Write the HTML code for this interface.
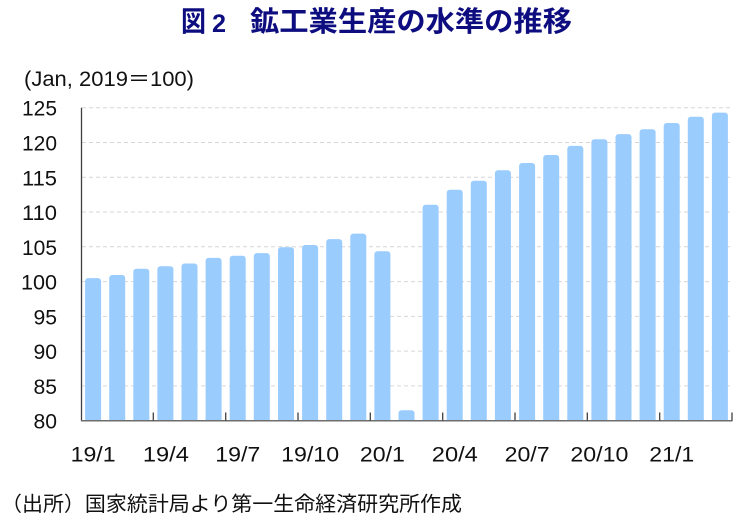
<!DOCTYPE html>
<html>
<head>
<meta charset="utf-8">
<style>
  html,body{margin:0;padding:0;background:#fff;}
  svg{display:block;}
  .num{font-family:"Liberation Sans",sans-serif;font-size:21px;fill:#111;}
</style>
</head>
<body>
<svg width="746" height="522" viewBox="0 0 746 522" xmlns="http://www.w3.org/2000/svg">
  <defs>
    <clipPath id="plot"><rect x="81" y="100" width="660" height="320.7"/></clipPath>
  </defs>
  <rect width="746" height="522" fill="#fff"/>
  <!-- Title -->
  <g font-family="'Liberation Sans','Noto Sans CJK JP',sans-serif" font-weight="bold" fill="#0d0d80">
    <text x="181" y="31" font-size="28" textLength="25" lengthAdjust="spacingAndGlyphs">図</text>
    <text x="212" y="32" font-size="25" textLength="14" lengthAdjust="spacingAndGlyphs">2</text>
    <text x="250" y="31" font-size="28" textLength="322" lengthAdjust="spacingAndGlyphs">鉱工業生産の水準の推移</text>
  </g>
  <!-- unit -->
  <text x="24" y="86" font-family="'Liberation Sans','Noto Sans CJK JP',sans-serif" font-size="21" fill="#111" textLength="170" lengthAdjust="spacingAndGlyphs">(Jan, 2019＝100)</text>

  <!-- gridlines -->
  <g stroke="#d6d6d6" stroke-width="1" stroke-dasharray="4,3">
    <line x1="82" x2="732" y1="107.7" y2="107.7"/>
    <line x1="82" x2="732" y1="142.5" y2="142.5"/>
    <line x1="82" x2="732" y1="177.3" y2="177.3"/>
    <line x1="82" x2="732" y1="212.0" y2="212.0"/>
    <line x1="82" x2="732" y1="246.8" y2="246.8"/>
    <line x1="82" x2="732" y1="281.6" y2="281.6"/>
    <line x1="82" x2="732" y1="316.4" y2="316.4"/>
    <line x1="82" x2="732" y1="351.1" y2="351.1"/>
    <line x1="82" x2="732" y1="385.9" y2="385.9"/>
  </g>

  <!-- bars -->
  <g fill="#9accfd" clip-path="url(#plot)">
    <rect x="85.1" y="278.1" width="16" height="150" rx="3"/>
    <rect x="109.2" y="275.0" width="16" height="150" rx="3"/>
    <rect x="133.3" y="268.7" width="16" height="160" rx="3"/>
    <rect x="157.4" y="266.3" width="16" height="160" rx="3"/>
    <rect x="181.5" y="263.5" width="16" height="160" rx="3"/>
    <rect x="205.6" y="257.9" width="16" height="170" rx="3"/>
    <rect x="229.7" y="255.8" width="16" height="170" rx="3"/>
    <rect x="253.8" y="253.1" width="16" height="170" rx="3"/>
    <rect x="278.0" y="247.3" width="16" height="180" rx="3"/>
    <rect x="302.1" y="245.0" width="16" height="180" rx="3"/>
    <rect x="326.2" y="239.1" width="16" height="190" rx="3"/>
    <rect x="350.3" y="233.6" width="16" height="190" rx="3"/>
    <rect x="374.4" y="251.3" width="16" height="180" rx="3"/>
    <rect x="398.5" y="410.3" width="16" height="20" rx="3"/>
    <rect x="422.6" y="204.7" width="16" height="220" rx="3"/>
    <rect x="446.7" y="189.8" width="16" height="240" rx="3"/>
    <rect x="470.8" y="180.7" width="16" height="250" rx="3"/>
    <rect x="494.9" y="170.3" width="16" height="260" rx="3"/>
    <rect x="519.1" y="163.0" width="16" height="260" rx="3"/>
    <rect x="543.2" y="155.0" width="16" height="270" rx="3"/>
    <rect x="567.3" y="145.9" width="16" height="280" rx="3"/>
    <rect x="591.4" y="139.3" width="16" height="290" rx="3"/>
    <rect x="615.5" y="134.1" width="16" height="290" rx="3"/>
    <rect x="639.6" y="129.2" width="16" height="300" rx="3"/>
    <rect x="663.7" y="123.0" width="16" height="300" rx="3"/>
    <rect x="687.8" y="116.7" width="16" height="310" rx="3"/>
    <rect x="711.9" y="112.6" width="16" height="310" rx="3"/>
  </g>

  <!-- axes -->
  <line x1="81.5" y1="107.7" x2="81.5" y2="421" stroke="#404040" stroke-width="1.3"/>
  <line x1="81" y1="420.7" x2="732.5" y2="420.7" stroke="#6e6e6e" stroke-width="1.5"/>
  <g stroke="#404040" stroke-width="1.3">
    <line x1="153.3" x2="153.3" y1="412.5" y2="420.7"/>
    <line x1="225.7" x2="225.7" y1="412.5" y2="420.7"/>
    <line x1="298.0" x2="298.0" y1="412.5" y2="420.7"/>
    <line x1="370.3" x2="370.3" y1="412.5" y2="420.7"/>
    <line x1="442.7" x2="442.7" y1="412.5" y2="420.7"/>
    <line x1="515.0" x2="515.0" y1="412.5" y2="420.7"/>
    <line x1="587.3" x2="587.3" y1="412.5" y2="420.7"/>
    <line x1="659.7" x2="659.7" y1="412.5" y2="420.7"/>
    <line x1="732.0" x2="732.0" y1="412.5" y2="420.7"/>
  </g>

  <!-- y labels -->
  <g class="num" text-anchor="end">
    <text x="57" y="115.7" textLength="35" lengthAdjust="spacingAndGlyphs">125</text>
    <text x="57" y="150.5" textLength="35" lengthAdjust="spacingAndGlyphs">120</text>
    <text x="57" y="185.3" textLength="35" lengthAdjust="spacingAndGlyphs">115</text>
    <text x="57" y="220.0" textLength="35" lengthAdjust="spacingAndGlyphs">110</text>
    <text x="57" y="254.8" textLength="35" lengthAdjust="spacingAndGlyphs">105</text>
    <text x="57" y="289.6" textLength="36" lengthAdjust="spacingAndGlyphs">100</text>
    <text x="57" y="324.4" textLength="23.5" lengthAdjust="spacingAndGlyphs">95</text>
    <text x="57" y="359.1" textLength="23.5" lengthAdjust="spacingAndGlyphs">90</text>
    <text x="57" y="393.9" textLength="23.5" lengthAdjust="spacingAndGlyphs">85</text>
    <text x="57" y="428.7" textLength="23.5" lengthAdjust="spacingAndGlyphs">80</text>
  </g>

  <!-- x labels -->
  <g class="num">
    <text x="70.6" y="461.5" textLength="45" lengthAdjust="spacingAndGlyphs">19/1</text>
    <text x="142.9" y="461.5" textLength="46" lengthAdjust="spacingAndGlyphs">19/4</text>
    <text x="215.3" y="461.5" textLength="45" lengthAdjust="spacingAndGlyphs">19/7</text>
    <text x="281.1" y="461.5" textLength="58" lengthAdjust="spacingAndGlyphs">19/10</text>
    <text x="359.9" y="461.5" textLength="45" lengthAdjust="spacingAndGlyphs">20/1</text>
    <text x="431.8" y="461.5" textLength="46" lengthAdjust="spacingAndGlyphs">20/4</text>
    <text x="504.6" y="461.5" textLength="45" lengthAdjust="spacingAndGlyphs">20/7</text>
    <text x="570.4" y="461.5" textLength="58" lengthAdjust="spacingAndGlyphs">20/10</text>
    <text x="649.3" y="461.5" textLength="45" lengthAdjust="spacingAndGlyphs">21/1</text>
  </g>

  <!-- footer -->
  <text x="1" y="511" font-family="'Liberation Sans','Noto Sans CJK JP',sans-serif" font-size="20.5" fill="#111" textLength="461" lengthAdjust="spacingAndGlyphs">（出所）国家統計局より第一生命経済研究所作成</text>
</svg>
</body>
</html>
